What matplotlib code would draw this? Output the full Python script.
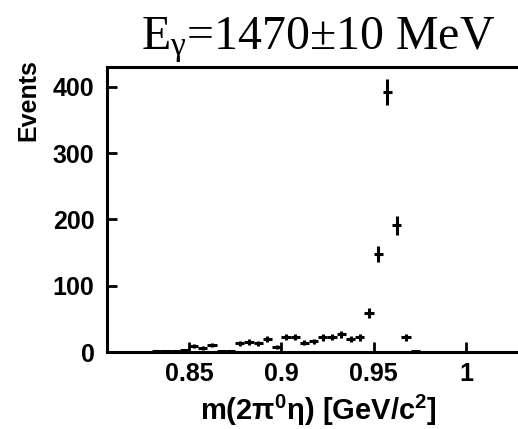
import numpy as np
import matplotlib
matplotlib.use("Agg")
import matplotlib.pyplot as plt

# bin centres [GeV/c^2], counts and their errors
mass = [0.8325, 0.8375, 0.8425, 0.8475, 0.8525, 0.8575, 0.8625, 0.8675,
        0.8725, 0.8775, 0.8825, 0.8875, 0.8925, 0.8975, 0.9025, 0.9075,
        0.9125, 0.9175, 0.9225, 0.9275, 0.9325, 0.9375, 0.9425, 0.9475,
        0.9525, 0.9575, 0.9625, 0.9675, 0.9725]
events = [1, 1, 2, 3, 9, 6, 10, 2, 2, 13, 15, 13, 19, 8, 23, 23, 14, 16,
          22, 23, 27, 19, 22, 59, 148, 392, 191, 22, 2]
errors = [1, 1, 1.4, 1.7, 3, 2.4, 3.2, 1.4, 1.4, 3.6, 3.9, 3.6, 4.4, 2.8,
          4.8, 4.8, 3.7, 4, 4.7, 4.8, 5.2, 4.4, 4.7, 7.7, 12.2, 19.8, 13.8,
          4.7, 1.4]
bin_half = 0.0025

xticks = [0.85, 0.9, 0.95, 1.0]
xticklabels = ['0.85', '0.9', '0.95', '1']
yticks = [0, 100, 200, 300, 400]

plt.rcParams['mathtext.default'] = 'regular'

fig = plt.figure(figsize=(5.18, 4.29), dpi=100)
ax = fig.add_axes([107/518, 77/429, 423/518, 285/429])

ax.errorbar(mass, events, xerr=bin_half, yerr=errors, fmt='none',
            ecolor='black', elinewidth=2.2, capsize=0)

ax.set_xlim(0.8056, 1.0347)
ax.set_ylim(0, 430)
ax.set_xticks(xticks)
ax.set_xticklabels(xticklabels)
ax.set_yticks(yticks)

for s in ax.spines.values():
    s.set_linewidth(2.2)
ax.spines['right'].set_visible(False)

ax.tick_params(direction='in', length=7, width=2, labelsize=18)
ax.tick_params(axis='x', pad=7)
ax.tick_params(axis='y', pad=9)
for lab in ax.get_xticklabels() + ax.get_yticklabels():
    lab.set_fontfamily('Liberation Sans')
    lab.set_fontweight('bold')

ax.set_xlabel(r'm(2$\pi^0\eta$) [GeV/c$^2$]', fontsize=21, fontweight='bold',
              family='Liberation Sans', labelpad=5)
ax.set_ylabel('Events', fontsize=18, fontweight='bold',
              family='Liberation Sans')
ax.yaxis.set_label_coords(-0.158, 0.885)

ax.set_title(r'E$_{\gamma}$=1470±10 MeV', fontsize=34.5,
             family='Liberation Serif', pad=13)

fig.savefig('out.png', dpi=100)
